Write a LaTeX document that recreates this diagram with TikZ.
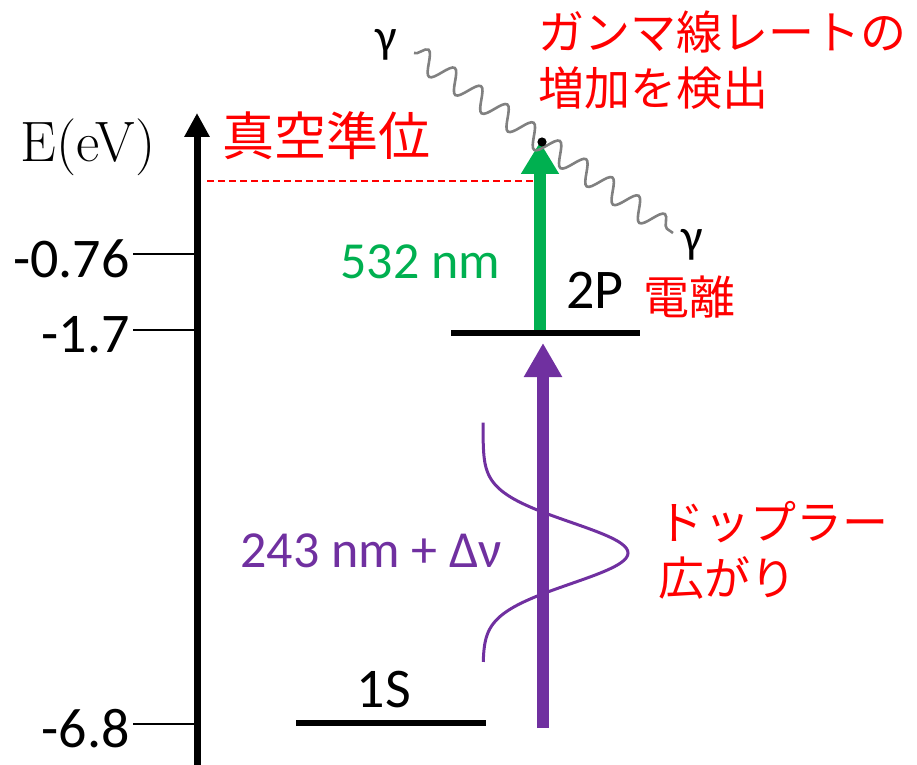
\documentclass[tikz,border=0pt]{standalone}
\usepackage{fontspec}
\setsansfont{Carlito}
\newfontfamily\jpfont{Noto Sans CJK JP}
\usepackage{tikz}
\usetikzlibrary{arrows.meta, decorations.pathmorphing}
\definecolor{labelred}{RGB}{255, 0, 0}
\definecolor{lasergreen}{RGB}{0, 176, 80}
\definecolor{laserpurple}{RGB}{112, 48, 160}
\definecolor{wavegray}{RGB}{128, 128, 128}

\begin{document}
\begin{tikzpicture}[x=0.5pt, y=-0.5pt,
			lbl/.style={font=\sffamily\fontsize{26}{31}\selectfont, inner sep=0pt},
			ticklbl/.style={font=\sffamily\fontsize{28}{34}\selectfont, inner sep=0pt, anchor=east},
			jp/.style={font=\jpfont\fontsize{23}{28}\selectfont, text=labelred, inner sep=0pt, align=left},
			level/.style={line width=3.2pt},
			tickline/.style={line width=1pt},
			beam/.style={line width=6.2pt, -{Triangle[length=17pt, width=18pt]}}
		]
		\useasboundingbox (0,0) rectangle (917,765);
		% energy axis
		\coordinate (axisbot) at (197,765);
		\coordinate (axistop) at (197,113);
		\draw[line width=3.5pt, -{Triangle[length=12pt, width=12pt]}] (axisbot) -- (axistop);
		\node[font=\rmfamily\fontsize{28.5}{34}\selectfont, inner sep=0pt] (axislabel) at (88,147) {E(eV)};
		\foreach \yy/\val/\nm in {254/-0.76/a, 330/-1.7/b, 724/-6.8/c} {
			\node[ticklbl] (lab\nm) at (130,\yy+5) {\val};
			\coordinate (tick\nm) at (133,\yy);
			\draw[tickline] (tick\nm) -- (axisbot |- tick\nm);
		}
		
		% vacuum level
		\node[jp, font=\jpfont\fontsize{26}{31}\selectfont] (vaclabel) at (326,136) {真空準位};
		\coordinate (vacl) at (207,181);
		\coordinate (vacr) at (535,181);
		\draw[labelred, line width=0.6pt, dash pattern=on 3.5pt off 2pt] (vacl) -- (vacr);
		
		% levels and laser beams
		\coordinate (greenbot) at (540,333);
		\coordinate (greentop) at (540,142);
		\coordinate (purplebot) at (543,728);
		\coordinate (purpletop) at (543,343);
		\draw[beam, lasergreen, -{Triangle[length=16pt, width=18pt]}] (greenbot) -- (greentop);
		\draw[beam, laserpurple] (purplebot) -- (purpletop);
		\coordinate (lev2pl) at (451,333);
		\coordinate (lev2pr) at (640,333);
		\coordinate (lev1sl) at (296,723);
		\coordinate (lev1sr) at (486,723);
		\draw[level] (lev2pl) -- (lev2pr);
		\draw[level] (lev1sl) -- (lev1sr);
		\node[lbl, font=\sffamily\fontsize{28}{34}\selectfont] (lab2p) at (595,290) {2P};
		\node[lbl, font=\sffamily\fontsize{28}{34}\selectfont] (lab1s) at (384,690) {1S};
		\node[lbl, text=lasergreen, anchor=west] (lab532) at (340,262) {532 nm};
		\node[lbl, text=laserpurple, anchor=west] (lab243) at (240,551) {243 nm + Δν};
		\node[jp, anchor=west] (ionlabel) at (643,297) {電離};
		
		% gamma rays
		\coordinate (gamstart) at (414,53);
		\coordinate (gamend) at (673,233);
		\draw[wavegray, line width=1.3pt, decorate, decoration={snake, amplitude=5.5pt, segment length=16pt}] (gamstart) -- (gamend);
		\fill (542,142) circle (2.3pt);
		\node[lbl, font=\sffamily\fontsize{24}{29}\selectfont] (gam1) at (386,45) {γ};
		\node[lbl, font=\sffamily\fontsize{24}{29}\selectfont] (gam2) at (692,245) {γ};
		\node[jp, anchor=west] (ratelabel) at (538,60) {ガンマ線レートの\\増加を検出};
		
		% doppler profile
		\draw[laserpurple, line width=1.5pt] plot[domain=-4.25:3.55, samples=100, smooth] ({483+145*exp(-\x*\x/2)}, {553+30.7*\x});
		\node[jp, anchor=west] (doplabel) at (658,550) {ドップラー\\広がり};
		\end{tikzpicture}
\end{document}
